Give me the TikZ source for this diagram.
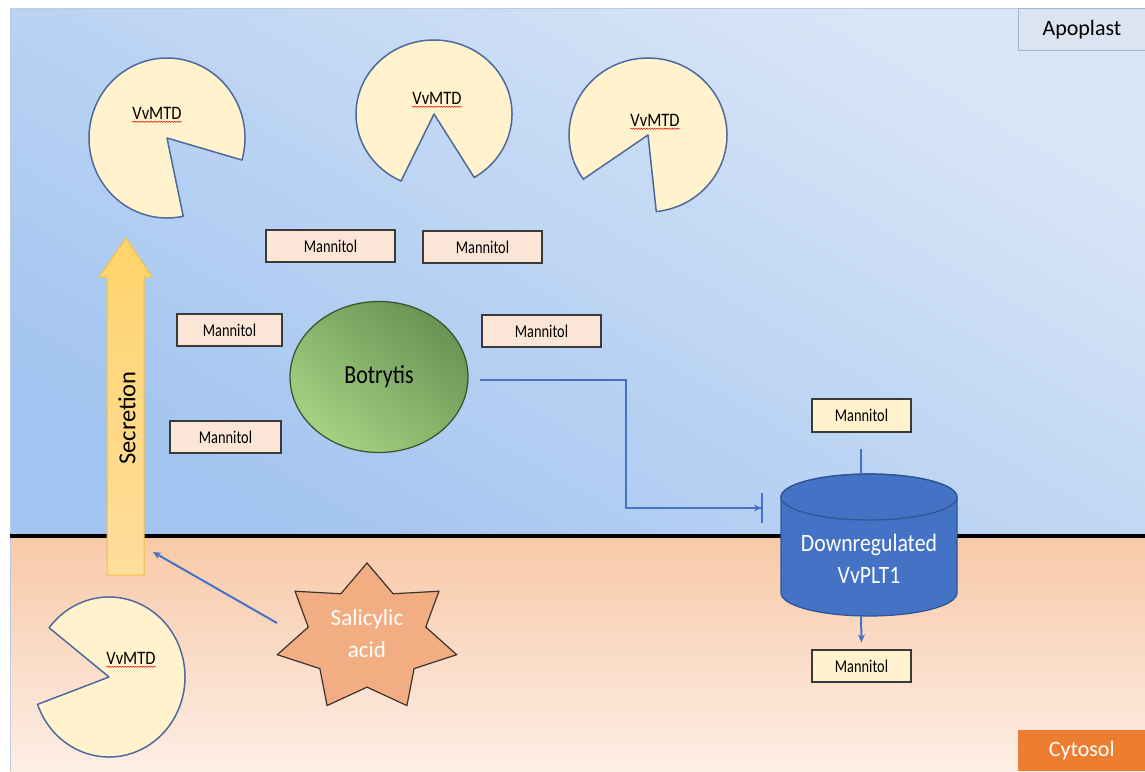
\documentclass[tikz,border=0pt]{standalone}
\usepackage{fontspec}
\setmainfont{Carlito}
\usepackage{graphicx}
\usetikzlibrary{arrows.meta,shapes.geometric,decorations.pathmorphing}
\definecolor{pacfill}{HTML}{FFF2CC}
\definecolor{pacline}{HTML}{4E6A9C}
\definecolor{manfill}{HTML}{FBE5D6}
\definecolor{boxline}{HTML}{3A3A3A}
\definecolor{linkblue}{HTML}{4472C4}
\definecolor{apTop}{HTML}{DAE6F7}
\definecolor{apBot}{HTML}{A2C4F0}
\definecolor{cyTop}{HTML}{F8C9A8}
\definecolor{cyBot}{HTML}{FDEEE5}
\definecolor{botDark}{HTML}{6A9354}
\definecolor{botLight}{HTML}{A4D282}
\definecolor{botLine}{HTML}{3F5530}
\definecolor{secTop}{HTML}{FFD46C}
\definecolor{secBot}{HTML}{FFDD9C}
\definecolor{secLine}{HTML}{F2C040}
\definecolor{starFill}{HTML}{F2AE82}
\definecolor{starLine}{HTML}{3B3330}
\definecolor{cylFill}{HTML}{4472C4}
\definecolor{cylLine}{HTML}{2F5597}
\definecolor{apBox}{HTML}{DCE3F1}
\definecolor{apBoxLine}{HTML}{9FB4D8}
\definecolor{cyBox}{HTML}{ED7D31}
\newcommand\hsq[2]{\scalebox{#1}[1]{#2}}
\begin{document}
\begin{tikzpicture}[x=1pt,y=1pt,
  pac/.style={fill=pacfill,draw=pacline,line width=1.5pt,line join=round},
  mtd/.style={inner sep=0pt,font=\fontsize{19}{19}\selectfont},
  wavy/.style={draw=red!85!black,line width=0.5pt,decorate,decoration={snake,amplitude=0.6pt,segment length=2.6pt}},
  mbox/.style={draw=boxline,line width=1.3pt,fill=manfill,minimum height=32pt,inner sep=0pt,font=\fontsize{18}{18}\selectfont},
  link/.style={draw=linkblue,line width=2pt},
  tip/.style={-{Stealth[length=8pt,width=7pt]}}
]
\useasboundingbox (0,0) rectangle (1145,-771);
\fill[white] (0,0) rectangle (1145,-771);
% regions
\shade[top color=apTop,bottom color=apBot,shading angle=-30] (10,-8) rectangle (1145,-536);
\shade[top color=cyTop,bottom color=cyBot] (10,-536) rectangle (1145,-771);
\draw[draw=apBoxLine!70,line width=0.8pt] (10,-771) -- (10,-8) -- (1145,-8);
\draw[line width=4pt] (10,-536) -- (1145,-536);
% region labels
\node[draw=apBoxLine,fill=apBox,line width=0.8pt,minimum width=127pt,minimum height=42pt,inner sep=0pt,anchor=north west,font=\fontsize{22}{22}\selectfont] (apo) at (1018,-8) {Apoplast};
\node[fill=cyBox,minimum width=127pt,minimum height=41pt,inner sep=0pt,anchor=south west,text=white,font=\fontsize{22}{22}\selectfont] (cyt) at (1018,-771) {Cytosol};
% pacmen
\filldraw[pac] (167,-138) -- ++(-16:78pt and 80pt) arc[start angle=-16,end angle=282,x radius=78pt,y radius=80pt] -- cycle;
\filldraw[pac] (434,-114) -- ++(-59:78pt and 74pt) arc[start angle=-59,end angle=245,x radius=78pt,y radius=74pt] -- cycle;
\filldraw[pac] (648,-135) -- ++(-84:79pt and 77pt) arc[start angle=-84,end angle=215,x radius=79pt,y radius=77pt] -- cycle;
\filldraw[pac] (109,-677) -- ++(200:76pt and 80pt) arc[start angle=200,end angle=502,x radius=76pt,y radius=80pt] -- cycle;
\node[mtd] (mtd1) at (157,-113) {\hsq{0.87}{VvMTD}};
\node[mtd] (mtd2) at (437,-98) {\hsq{0.87}{VvMTD}};
\node[mtd] (mtd3) at (655,-120) {\hsq{0.87}{VvMTD}};
\node[mtd] (mtd4) at (131,-658) {\hsq{0.87}{VvMTD}};
\foreach \m in {mtd1,mtd2,mtd3,mtd4}{
  \draw[wavy] ([yshift=-2.5pt]\m.south west) -- ([yshift=-2.5pt]\m.south east);
}
% mannitol boxes
\node[mbox,minimum width=129pt] (man1) at (330.5,-246) {\hsq{0.8}{Mannitol}};
\node[mbox,minimum width=119pt] (man2) at (482.5,-247) {\hsq{0.8}{Mannitol}};
\node[mbox,minimum width=105pt] (man3) at (229.5,-330) {\hsq{0.8}{Mannitol}};
\node[mbox,minimum width=119pt] (man4) at (541.5,-331) {\hsq{0.8}{Mannitol}};
\node[mbox,minimum width=111pt] (man5) at (225.5,-437) {\hsq{0.8}{Mannitol}};
\node[mbox,fill=pacfill,minimum width=99pt,minimum height=33pt] (mant) at (861.5,-415.5) {\hsq{0.8}{Mannitol}};
\node[mbox,fill=pacfill,minimum width=99pt] (manb) at (861.5,-666) {\hsq{0.8}{Mannitol}};
% Botrytis
\node[ellipse,draw=botLine,line width=1.3pt,top color=botDark,bottom color=botLight,shading angle=-40,minimum width=178pt,minimum height=151pt,inner sep=0pt,font=\fontsize{26}{26}\selectfont] (bot) at (379,-377) {\hsq{0.84}{Botrytis}};
% secretion arrow
\shade[top color=secTop,bottom color=secBot,draw=secLine,line width=1pt]
  (107,-575) -- (144,-575) -- (144,-277) -- (152,-277) -- (126,-238) -- (99,-277) -- (107,-277) -- cycle;
\node[rotate=90,inner sep=0pt,font=\fontsize{24.5}{24.5}\selectfont] (sec) at (127,-418) {Secretion};
\coordinate (secin) at (153,-552);
% Salicylic acid star
\begin{scope}[shift={(367,-638)}]
\filldraw[fill=starFill,draw=starLine,line width=1.2pt,line join=miter]
  (90:92pt and 75pt) \foreach \k [evaluate=\k as \r using {mod(\k,2)==0 ? 1 : 0.655}] in {1,...,13}{ -- ({90+\k*360/14}:{92*\r} and {75*\r}) } -- cycle;
\end{scope}
\node[align=center,text=white,inner sep=0pt,font=\fontsize{23}{32}\selectfont] (sal) at (367,-634) {Salicylic\\acid};
\coordinate (salout) at (277,-623);
\draw[link,tip] (salout) -- (secin);
% transporter cylinder
\filldraw[fill=cylFill,draw=cylLine,line width=1.2pt]
  (781,-497) -- (781,-593) arc[start angle=180,end angle=360,x radius=88pt,y radius=23pt] -- (957,-497)
  arc[start angle=0,end angle=180,x radius=88pt,y radius=23pt] -- cycle;
\draw[draw=cylLine,line width=1.2pt] (869,-497) ellipse [x radius=88pt,y radius=23pt];
\node[align=center,text=white,inner sep=0pt,font=\fontsize{25}{32}\selectfont] (plt) at (869,-559) {\hsq{0.87}{Downregulated}\\\hsq{0.87}{VvPLT1}};
\coordinate (cyltop) at (861,-474);
\coordinate (cylbot) at (861,-616);
\coordinate (inlet) at (861,-449);
\coordinate (inh) at (763,-508);
\coordinate (botout) at (480,-380);
% connectors
\draw[link] (inlet) -- (cyltop);
\draw[link,tip] (cylbot) -- ([yshift=7pt]manb.north);
\draw[link,-{Stealth[length=7pt,width=7pt]Bar[width=30pt,line width=2pt]}] (botout) -- (626,-380) |- (inh);
\end{tikzpicture}
\end{document}
